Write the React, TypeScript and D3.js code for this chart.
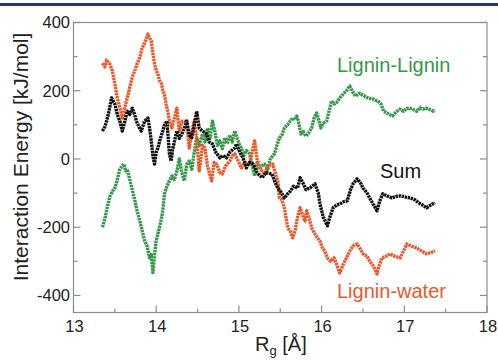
import React from 'react';
import * as d3 from 'd3';

// Lignin-Lignin interaction energy vs radius of gyration
const llRg = [13.35, 13.38, 13.41, 13.44, 13.47, 13.50, 13.53, 13.56, 13.59, 13.61, 13.63, 13.65, 13.68, 13.71, 13.74, 13.76, 13.80, 13.83, 13.86, 13.89, 13.92, 13.94, 13.96, 13.98, 14.00, 14.02, 14.04, 14.065, 14.08, 14.10, 14.13, 14.16, 14.19, 14.22, 14.25, 14.28, 14.31, 14.34, 14.37, 14.40, 14.43, 14.46, 14.49, 14.52, 14.56, 14.59, 14.62, 14.65, 14.68, 14.71, 14.74, 14.77, 14.80, 14.83, 14.86, 14.89, 14.92, 14.95, 14.98, 15.01, 15.03, 15.06, 15.09, 15.13, 15.16, 15.19, 15.22, 15.25, 15.28, 15.31, 15.35, 15.38, 15.41, 15.43, 15.46, 15.49, 15.52, 15.55, 15.59, 15.62, 15.65, 15.68, 15.70, 15.72, 15.75, 15.78, 15.81, 15.84, 15.88, 15.91, 15.94, 15.97, 15.99, 16.02, 16.06, 16.09, 16.12, 16.15, 16.18, 16.22, 16.26, 16.30, 16.34, 16.38, 16.41, 16.44, 16.46, 16.49, 16.52, 16.55, 16.58, 16.62, 16.65, 16.68, 16.72, 16.75, 16.79, 16.82, 16.86, 16.90, 16.95, 16.99, 17.03, 17.06, 17.10, 17.15, 17.19, 17.23, 17.26, 17.30, 17.35, 17.37];
const llE = [-200, -175, -140, -110, -95, -85, -60, -30, -20, -15, -35, -30, -60, -90, -120, -143, -180, -210, -240, -255, -290, -280, -333, -280, -240, -220, -200, -173, -150, -103, -80, -64, -50, -60, -35, 0, -40, -64, -15, -6, -30, 20, 62, 40, 73, 50, 90, 60, 111, 80, 40, 53, 30, 62, 45, 70, 50, 82, 60, 40, 32, 10, 25, 15, -20, -50, -10, -30, -20, -15, -30, 0, 10, 15, 40, 62, 70, 91, 100, 111, 120, 115, 126, 110, 73, 80, 67, 75, 91, 120, 135, 110, 91, 105, 111, 140, 170, 161, 165, 179, 190, 200, 214, 195, 184, 190, 193, 188, 184, 180, 178, 176, 172, 170, 160, 140, 135, 130, 126, 138, 146, 140, 148, 149, 146, 140, 150, 146, 149, 146, 140, 142];

// Lignin-water
const lwRg = [13.35, 13.38, 13.40, 13.44, 13.46, 13.47, 13.50, 13.53, 13.56, 13.58, 13.59, 13.62, 13.65, 13.68, 13.71, 13.74, 13.77, 13.80, 13.83, 13.86, 13.90, 13.92, 13.94, 13.96, 13.98, 14.00, 14.02, 14.04, 14.065, 14.08, 14.10, 14.12, 14.14, 14.16, 14.19, 14.22, 14.25, 14.27, 14.28, 14.31, 14.34, 14.37, 14.40, 14.43, 14.46, 14.49, 14.52, 14.56, 14.59, 14.62, 14.67, 14.70, 14.73, 14.77, 14.80, 14.84, 14.89, 14.92, 14.95, 14.98, 15.03, 15.07, 15.13, 15.16, 15.19, 15.22, 15.26, 15.31, 15.35, 15.41, 15.45, 15.47, 15.49, 15.52, 15.55, 15.59, 15.62, 15.65, 15.68, 15.71, 15.74, 15.77, 15.80, 15.82, 15.86, 15.88, 15.92, 15.95, 15.98, 16.01, 16.04, 16.07, 16.11, 16.15, 16.18, 16.22, 16.26, 16.30, 16.34, 16.38, 16.43, 16.47, 16.50, 16.55, 16.58, 16.63, 16.67, 16.70, 16.73, 16.78, 16.83, 16.88, 16.95, 17.00, 17.03, 17.08, 17.15, 17.21, 17.27, 17.32, 17.37];
const lwE = [281, 270, 290, 278, 265, 258, 220, 179, 150, 132, 120, 150, 179, 210, 240, 258, 280, 296, 325, 340, 366, 355, 346, 310, 278, 260, 249, 230, 220, 200, 190, 160, 140, 110, 91, 120, 149, 100, 82, 110, 111, 102, 32, 80, 111, 60, -35, 40, 32, -20, -64, -10, -15, -40, -44, -20, -6, 10, 15, 0, -26, -10, -15, 20, 53, 0, -30, -44, -20, -15, -50, -64, -114, -120, -143, -202, -211, -231, -210, -170, -143, -165, -182, -152, -182, -202, -220, -231, -240, -261, -270, -290, -300, -290, -307, -334, -310, -290, -270, -255, -249, -265, -278, -285, -299, -315, -337, -310, -290, -285, -278, -285, -290, -265, -249, -255, -261, -270, -278, -275, -269];

// Sum
const sumRg = [13.35, 13.38, 13.40, 13.43, 13.46, 13.48, 13.50, 13.53, 13.56, 13.59, 13.62, 13.65, 13.68, 13.71, 13.74, 13.76, 13.80, 13.82, 13.86, 13.90, 13.92, 13.94, 13.96, 13.98, 14.00, 14.02, 14.05, 14.08, 14.10, 14.13, 14.16, 14.18, 14.20, 14.25, 14.28, 14.31, 14.34, 14.37, 14.40, 14.43, 14.46, 14.49, 14.52, 14.56, 14.61, 14.64, 14.68, 14.72, 14.77, 14.81, 14.85, 14.89, 14.95, 14.97, 15.01, 15.05, 15.09, 15.13, 15.17, 15.22, 15.28, 15.33, 15.40, 15.44, 15.47, 15.50, 15.55, 15.59, 15.62, 15.66, 15.71, 15.74, 15.78, 15.81, 15.86, 15.92, 15.96, 15.98, 16.02, 16.07, 16.10, 16.14, 16.18, 16.22, 16.27, 16.31, 16.35, 16.38, 16.43, 16.47, 16.50, 16.55, 16.58, 16.63, 16.67, 16.70, 16.74, 16.79, 16.85, 16.90, 16.95, 17.02, 17.07, 17.13, 17.17, 17.22, 17.27, 17.32, 17.37];
const sumE = [82, 95, 111, 140, 179, 170, 161, 130, 111, 82, 110, 140, 130, 149, 130, 111, 90, 82, 111, 120, 90, 53, 10, -15, 20, 32, 60, 82, 100, 111, 15, -6, 30, 82, 60, 73, 90, 111, 70, 62, 100, 140, 90, 82, 73, 50, 44, 20, 3, 10, 3, 20, 32, 44, 20, 3, -26, -10, -15, -40, -55, -40, -44, -70, -85, -94, -114, -102, -95, -80, -85, -55, -73, -90, -85, -73, -100, -132, -170, -196, -170, -143, -135, -132, -125, -123, -90, -73, -58, -70, -85, -100, -114, -135, -152, -125, -102, -108, -114, -110, -108, -112, -114, -120, -128, -135, -143, -135, -128];

const xTicks = [13, 14, 15, 16, 17, 18];
const yTicks = [-400, -200, 0, 200, 400];
const seriesNames = ['Lignin-Lignin', 'Lignin-water', 'Sum'];

const W = 498;
const H = 360;
const FONT = 'Liberation Sans, Arial, Helvetica, sans-serif';

export default function App() {
  const x = d3.scaleLinear().domain([13, 18]).range([73.5, 487]);
  const y = d3.scaleLinear().domain([-450, 400]).range([312.5, 22.5]);

  const line = d3.line<[number, number]>()
    .x(d => x(d[0]))
    .y(d => y(d[1]));

  const series = [
    { name: seriesNames[0], rg: llRg, e: llE, color: '#35984a' },
    { name: seriesNames[1], rg: lwRg, e: lwE, color: '#e8592b' },
    { name: seriesNames[2], rg: sumRg, e: sumE, color: '#111111' },
  ];

  const xMinor = d3.range(13.5, 18, 1);
  const yMinor = d3.range(-300, 400, 200);
  const frame = '#8c8c8c';

  return (
    <svg width={W} height={H} style={{ position: 'absolute', left: 0, top: 0, background: '#fff' }}>
      <rect x={0} y={3} width={W} height={3} fill="#28327c" />

      {/* frame */}
      <rect x={x(13)} y={y(400)} width={x(18) - x(13)} height={y(-450) - y(400)}
        fill="none" stroke={frame} strokeWidth={1.2} />

      {/* y ticks, left and right */}
      {yTicks.map(t => (
        <g key={'y' + t}>
          <line x1={x(13)} x2={x(13) + 7} y1={y(t)} y2={y(t)} stroke={frame} strokeWidth={1.2} />
          <line x1={x(18)} x2={x(18) - 7} y1={y(t)} y2={y(t)} stroke={frame} strokeWidth={1.2} />
          <text x={70} y={y(t)} dy="0.36em" textAnchor="end" fontFamily={FONT} fontSize={16.5} fill="#222">{t}</text>
        </g>
      ))}
      {yMinor.map(t => (
        <g key={'ym' + t}>
          <line x1={x(13)} x2={x(13) + 4} y1={y(t)} y2={y(t)} stroke={frame} strokeWidth={1.2} />
          <line x1={x(18)} x2={x(18) - 4} y1={y(t)} y2={y(t)} stroke={frame} strokeWidth={1.2} />
        </g>
      ))}

      {/* x ticks */}
      {xTicks.map(t => (
        <g key={'x' + t}>
          <line x1={x(t)} x2={x(t)} y1={y(-450)} y2={y(-450) - 7} stroke={frame} strokeWidth={1.2} />
          <text x={x(t) + 1} y={332} textAnchor="middle" fontFamily={FONT} fontSize={16.5} fill="#222">{t}</text>
        </g>
      ))}
      {xMinor.map(t => (
        <line key={'xm' + t} x1={x(t)} x2={x(t)} y1={y(-450)} y2={y(-450) - 4} stroke={frame} strokeWidth={1.2} />
      ))}

      {/* data */}
      {series.map(s => (
        <path key={s.name}
          d={line(s.rg.map((r, i) => [r, s.e[i]] as [number, number])) || ''}
          fill="none" stroke={s.color} strokeWidth={3.4}
          strokeDasharray="2.4 0.7" strokeLinejoin="round" />
      ))}

      {/* series labels */}
      <text x={337} y={72} fontFamily={FONT} fontSize={20} fill="#35984a">{seriesNames[0]}</text>
      <text x={337} y={298} fontFamily={FONT} fontSize={20} fill="#e8592b">{seriesNames[1]}</text>
      <text x={380} y={178} fontFamily={FONT} fontSize={20} fill="#111">{seriesNames[2]}</text>

      {/* axis titles */}
      <text transform={`translate(28, ${y(0) - 2}) rotate(-90)`} textAnchor="middle"
        fontFamily={FONT} fontSize={21} fill="#222">Interaction Energy [kJ/mol]</text>
      <text x={255} y={351} fontFamily={FONT} fontSize={20} fill="#222">
        R<tspan dy={4} fontSize={13}>g</tspan><tspan dy={-4}> [Å]</tspan>
      </text>
    </svg>
  );
}
